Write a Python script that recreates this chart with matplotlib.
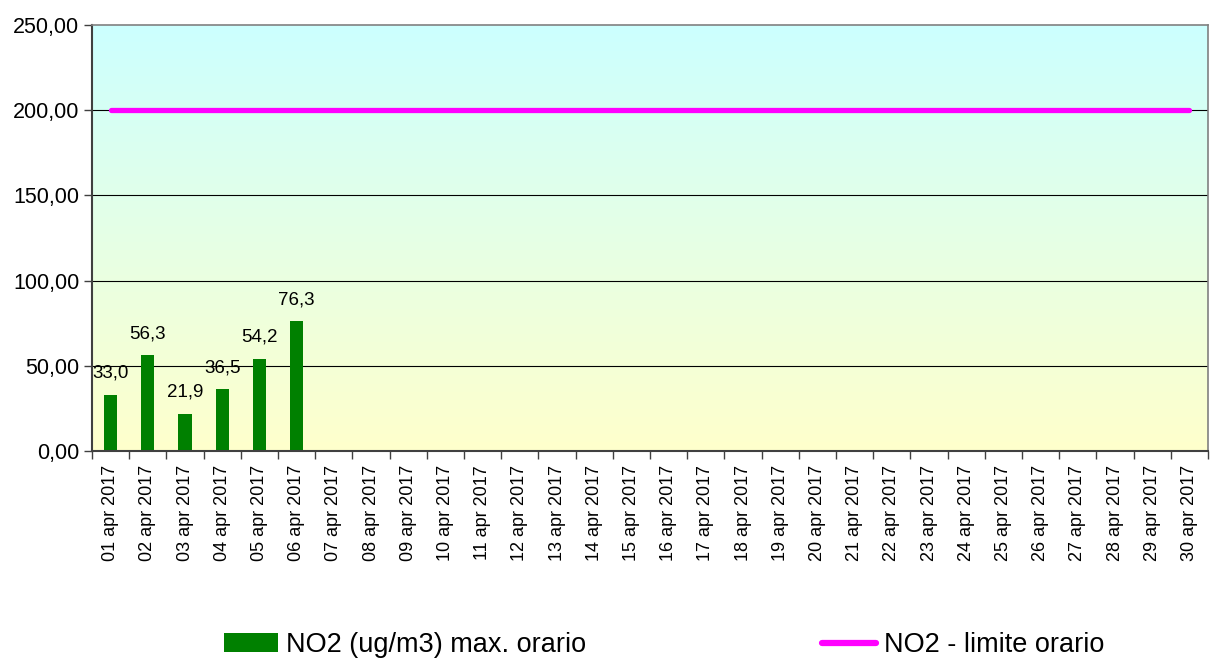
import numpy as np
import matplotlib
matplotlib.use("Agg")
import matplotlib.pyplot as plt
from matplotlib.patches import Patch
from matplotlib.lines import Line2D
from matplotlib.ticker import FuncFormatter, FixedLocator

plt.rcParams['font.family'] = ['Liberation Sans', 'DejaVu Sans']

# data
days = [f"{d:02d} apr 2017" for d in range(1, 31)]
no2_max = [33.0, 56.3, 21.9, 36.5, 54.2, 76.3] + [np.nan] * 24
no2_limit = [200.0] * 30
label_bar = "NO2 (ug/m3) max. orario"
label_line = "NO2 - limite orario"

fig = plt.figure(figsize=(12.1, 6.58), dpi=100)
ax = fig.add_axes([92 / 1210, 1 - 451 / 658, (1208 - 92) / 1210, (451 - 25) / 658])

# background gradient, cyan at top to pale yellow at bottom
top = np.array([0xCC, 0xFF, 0xFF]) / 255
bot = np.array([0xFF, 0xFF, 0xCC]) / 255
f = np.linspace(0, 1, 256)[:, None]
grad = (top * (1 - f) + bot * f)[:, None, :]
ax.imshow(grad, extent=[0, 1, 0, 1], transform=ax.transAxes, aspect='auto', zorder=0)

x = np.arange(len(days))
ax.set_xlim(-0.5, len(days) - 0.5)
ax.set_ylim(0, 250)

for v in [50, 100, 150, 200]:
    ax.axhline(v, color='black', lw=0.8, zorder=1)

ax.bar(x, no2_max, width=0.35, color='#008000', zorder=2)
ax.plot(x, no2_limit, color='#FF00FF', lw=3.8, solid_capstyle='round', zorder=3)

for xi, v in zip(x, no2_max):
    if not np.isnan(v):
        ax.text(xi, v + 7.5, f"{v:.1f}".replace('.', ','), ha='center', va='bottom', fontsize=13.5)

ax.set_yticks([0, 50, 100, 150, 200, 250])
ax.yaxis.set_major_formatter(FuncFormatter(lambda v, p: f"{v:.2f}".replace('.', ',')))
ax.tick_params(axis='y', labelsize=15.5, length=6, width=1, color='#404040', pad=3)

ax.set_xticks(x)
ax.set_xticklabels(days, rotation=90, fontsize=13)
ax.tick_params(axis='x', which='major', length=0, pad=10)
ax.xaxis.set_minor_locator(FixedLocator(np.arange(-0.5, len(days), 1.0)))
ax.tick_params(axis='x', which='minor', length=6, width=1, color='#404040')

for s in ['left', 'bottom']:
    ax.spines[s].set_color('#404040')
    ax.spines[s].set_linewidth(1.5)
for s in ['top', 'right']:
    ax.spines[s].set_color('#808080')
    ax.spines[s].set_linewidth(1.2)

handles = [Patch(facecolor='#008000', edgecolor='none'),
           Line2D([0], [0], color='#FF00FF', lw=4.5, solid_capstyle='round')]
fig.legend(handles, [label_bar, label_line], ncol=2, loc='center left',
           bbox_to_anchor=(210 / 1210, 1 - 645 / 658), frameon=False,
           fontsize=19.5, handlelength=2.0, handleheight=0.7, handletextpad=0.3,
           columnspacing=8.7, borderpad=0)

fig.savefig("out.png", dpi=100)
